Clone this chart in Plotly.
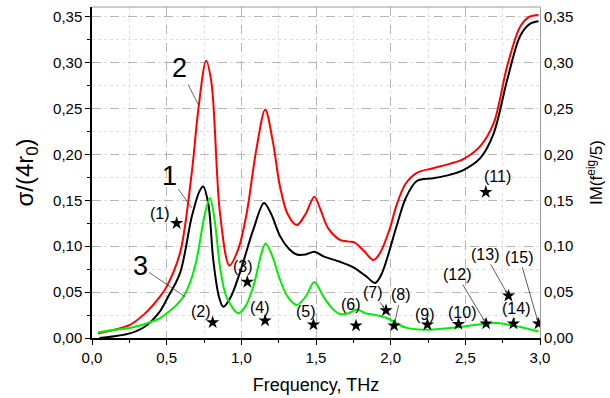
import plotly.graph_objects as go

# ---- data ----
freq_red = [0.04, 0.15, 0.25, 0.35, 0.45, 0.50, 0.59, 0.668, 0.712, 0.764, 0.80, 0.857, 0.92, 0.98,
            1.036, 1.10, 1.16, 1.21, 1.259, 1.31, 1.371, 1.43, 1.489, 1.53, 1.58, 1.66, 1.72, 1.76,
            1.82, 1.885, 1.93, 1.996, 2.04, 2.10, 2.175, 2.285, 2.40, 2.487, 2.60, 2.69, 2.78, 2.867,
            2.93, 2.99]
sigma_red = [0.005, 0.009, 0.014, 0.026, 0.044, 0.056, 0.093, 0.180, 0.249, 0.302, 0.278, 0.136, 0.079, 0.097,
             0.136, 0.205, 0.249, 0.215, 0.165, 0.135, 0.123, 0.135, 0.154, 0.140, 0.120, 0.107, 0.105, 0.104,
             0.095, 0.085, 0.093, 0.120, 0.145, 0.168, 0.180, 0.185, 0.190, 0.195, 0.209, 0.234, 0.296, 0.339,
             0.350, 0.352]

freq_black = [0.05, 0.15, 0.254, 0.35, 0.45, 0.50, 0.59, 0.668, 0.72, 0.745, 0.78, 0.812, 0.85, 0.879,
              0.93, 0.99, 1.08, 1.152, 1.20, 1.259, 1.32, 1.371, 1.43, 1.489, 1.55, 1.661, 1.75, 1.83,
              1.896, 1.94, 2.04, 2.10, 2.175, 2.285, 2.40, 2.487, 2.60, 2.69, 2.78, 2.867, 2.93, 2.99]
sigma_black = [0.0, 0.002, 0.005, 0.012, 0.028, 0.042, 0.071, 0.132, 0.160, 0.165, 0.145, 0.085, 0.045, 0.034,
               0.045, 0.071, 0.118, 0.147, 0.135, 0.111, 0.097, 0.091, 0.091, 0.094, 0.089, 0.083, 0.077, 0.068,
               0.060, 0.070, 0.122, 0.152, 0.171, 0.174, 0.178, 0.183, 0.196, 0.223, 0.281, 0.329, 0.342, 0.345]

freq_green = [0.04, 0.15, 0.254, 0.35, 0.45, 0.50, 0.56, 0.612, 0.66, 0.70, 0.757, 0.79, 0.82, 0.857,
              0.90, 0.98, 1.03, 1.08, 1.163, 1.21, 1.259, 1.31, 1.371, 1.43, 1.489, 1.55, 1.616, 1.661,
              1.72, 1.773, 1.83, 1.90, 1.974, 2.05, 2.108, 2.25, 2.465, 2.60, 2.71, 2.867, 2.99]
sigma_green = [0.006, 0.009, 0.011, 0.015, 0.021, 0.027, 0.035, 0.045, 0.062, 0.085, 0.136, 0.1525, 0.130, 0.078,
               0.045, 0.027, 0.035, 0.056, 0.103, 0.088, 0.0635, 0.045, 0.036, 0.045, 0.061, 0.045, 0.031, 0.026,
               0.027, 0.031, 0.027, 0.025, 0.0218, 0.015, 0.011, 0.009, 0.012, 0.015, 0.0163, 0.012, 0.007]

star_freq = [0.567, 0.808, 1.04, 1.159, 1.483, 1.768, 1.969, 2.023, 2.246, 2.454, 2.637, 2.639, 2.789, 2.822, 2.99]
star_im = [0.125, 0.017, 0.061, 0.019, 0.0145, 0.0134, 0.030, 0.0134, 0.0145, 0.0152, 0.159, 0.0156, 0.046, 0.0156, 0.0156]
star_labels = ["(1)", "(2)", "(3)", "(4)", "(5)", "(6)", "(7)", "(8)", "(9)", "(10)", "(11)", "(12)", "(13)", "(14)", "(15)"]

x_ticks = [0.0, 0.5, 1.0, 1.5, 2.0, 2.5, 3.0]
y_ticks = [0.00, 0.05, 0.10, 0.15, 0.20, 0.25, 0.30, 0.35]

# label placement (layout): text position and whether an arrow is drawn
label_pos = {
    "(1)": (0.455, 0.136, False), "(2)": (0.728, 0.029, False), "(3)": (1.009, 0.078, False),
    "(4)": (1.125, 0.033, False), "(5)": (1.433, 0.029, False), "(6)": (1.733, 0.037, False),
    "(7)": (1.88, 0.050, True), "(8)": (2.068, 0.047, True), "(9)": (2.23, 0.026, False),
    "(10)": (2.476, 0.028, False), "(11)": (2.717, 0.176, False), "(12)": (2.443, 0.069, True),
    "(13)": (2.632, 0.091, True), "(14)": (2.84, 0.032, True), "(15)": (2.862, 0.088, True),
}

FONT = "Liberation Sans, Arial, sans-serif"
fig = go.Figure()

fig.add_trace(go.Scatter(x=freq_red, y=sigma_red, mode="lines", line=dict(color="#ff0000", width=2, shape="spline", smoothing=0.9), name="2"))
fig.add_trace(go.Scatter(x=freq_black, y=sigma_black, mode="lines", line=dict(color="#000000", width=2, shape="spline", smoothing=0.9), name="1"))
fig.add_trace(go.Scatter(x=freq_green, y=sigma_green, mode="lines", line=dict(color="#00ee00", width=2, shape="spline", smoothing=0.9), name="3"))
fig.add_trace(go.Scatter(x=star_freq, y=star_im, mode="markers", yaxis="y2",
                         marker=dict(symbol="star", size=10, color="black"), name="IM"))

annotations = []
for f, v, lab in zip(star_freq, star_im, star_labels):
    tx, ty, arrow = label_pos[lab]
    if arrow:
        annotations.append(dict(x=f, y=v, xref="x", yref="y", ax=tx, ay=ty, axref="x", ayref="y",
                                text=lab, showarrow=True, arrowhead=2, arrowsize=0.6, arrowwidth=0.8,
                                arrowcolor="#333333", standoff=3, font=dict(family=FONT, size=16, color="black")))
    else:
        annotations.append(dict(x=tx, y=ty, xref="x", yref="y", text=lab, showarrow=False,
                                font=dict(family=FONT, size=16, color="black")))

# curve labels
curve_labels = [("1", 0.667, 0.142, 0.518, 0.176), ("2", 0.712, 0.254, 0.589, 0.294), ("3", 0.623, 0.045, 0.322, 0.078)]
for t, x0, y0, tx, ty in curve_labels:
    annotations.append(dict(x=x0, y=y0, xref="x", yref="y", ax=tx, ay=ty, axref="x", ayref="y",
                            text=t, showarrow=True, arrowhead=0, arrowwidth=0.8, arrowcolor="#444444",
                            font=dict(family=FONT, size=27, color="black")))

axis_common = dict(showline=True, linecolor="black", linewidth=1.5, ticks="outside", ticklen=5,
                   tickwidth=1.2, tickcolor="black", zeroline=False,
                   tickfont=dict(family=FONT, size=15, color="black"))

fig.update_layout(
    width=610, height=398,
    margin=dict(l=92, r=70, t=7, b=60),
    paper_bgcolor="white", plot_bgcolor="white",
    separators=", ",
    showlegend=False,
    annotations=annotations,
    xaxis=dict(**axis_common, range=[0, 3], tickvals=x_ticks, tickformat=".1f",
               showgrid=True, gridcolor="#b5b5b5", griddash="dash", gridwidth=1,
               minor=dict(dtick=0.25, ticks="outside", ticklen=3, tickcolor="black",
                          showgrid=True, gridcolor="#dedede", griddash="dot"),
               title=dict(text="Frequency, THz", font=dict(family=FONT, size=18, color="black"), standoff=14)),
    yaxis=dict(**axis_common, range=[0, 0.3606], tickvals=y_ticks, tickformat=".2f",
               showgrid=True, gridcolor="#b5b5b5", griddash="dash", gridwidth=1,
               minor=dict(dtick=0.025, ticks="outside", ticklen=3, tickcolor="black",
                          showgrid=True, gridcolor="#dedede", griddash="dot"),
               title=dict(text="σ/(4r<sub>0</sub>)", font=dict(family=FONT, size=24, color="black"), standoff=13)),
    yaxis2=dict(overlaying="y", side="right", range=[0, 0.3606], tickvals=y_ticks, tickformat=".2f",
                showline=True, linecolor="#999999", linewidth=1.2, ticks="", showgrid=False, zeroline=False,
                tickfont=dict(family=FONT, size=15, color="black"),
                title=dict(text="IM(f<sup>eig</sup>/5)", font=dict(family=FONT, size=17, color="black"), standoff=17)),
    shapes=[dict(type="line", xref="paper", yref="paper", x0=0, x1=1, y0=1, y1=1,
                 line=dict(color="#999999", width=1.2))],
)

fig.write_html("out.html")
